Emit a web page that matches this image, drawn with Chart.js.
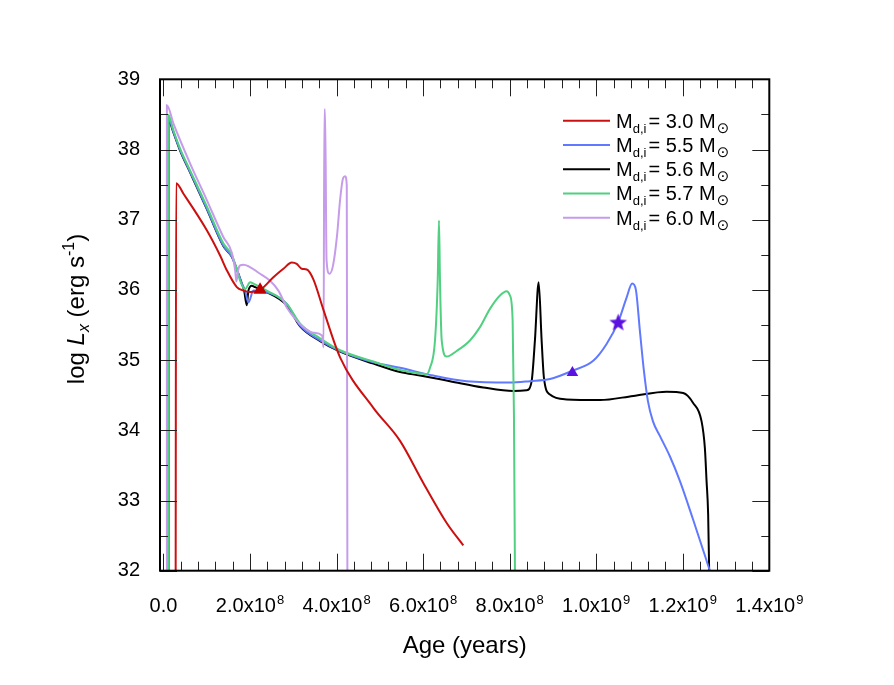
<!DOCTYPE html>
<html>
<head>
<meta charset="utf-8">
<script src="https://cdn.jsdelivr.net/npm/chart.js@4.4.0/dist/chart.umd.min.js"></script>
<style>
body { margin: 0; background: #fff; }
#wrap { width: 894px; height: 685px; position: relative; }
</style>
</head>
<body>
<div id="wrap"><canvas id="myChart"></canvas></div>
<script>
// M_d,i = 3.0
const ageM30 = [2.82e7, 2.93e7, 4.62e7, 1.002e8, 1.309e8, 1.464e8, 1.695e8, 1.848e8, 2.002e8, 2.233e8, 2.54e8, 2.771e8, 2.965e8, 3.081e8, 3.196e8, 3.312e8, 3.464e8, 3.695e8, 4.081e8, 4.85e8, 5.467e8, 6.005e8, 6.545e8, 6.929e8];
const lxM30 = [32, 37.52, 37.37, 36.85, 36.49, 36.28, 36.04, 35.99, 35.97, 36.0, 36.18, 36.3, 36.39, 36.37, 36.3, 36.29, 36.15, 35.72, 35.04, 34.32, 33.85, 33.25, 32.68, 32.36];

// M_d,i = 5.5
const ageM55 = [1.15e7, 1.15e7, 2.31e7, 3.86e7, 6.17e7, 1.002e8, 1.386e8, 1.58e8, 1.732e8, 1.811e8, 1.887e8, 1.963e8, 2.079e8, 2.31e8, 2.85e8, 3.157e8, 3.619e8, 4.081e8, 4.85e8, 5.467e8, 6.236e8, 7.007e8, 8.007e8, 8.469e8, 8.931e8, 9.455e8, 9.931e8, 1.024e9, 1.0508e9, 1.0702e9, 1.0832e9, 1.0917e9, 1.1009e9, 1.1102e9, 1.1194e9, 1.131e9, 1.1471e9, 1.1702e9, 1.1933e9, 1.2233e9, 1.2626e9];
const lxM55 = [32, 38.45, 38.25, 37.99, 37.68, 37.16, 36.63, 36.47, 36.23, 36.09, 35.99, 35.82, 35.99, 35.98, 35.8, 35.49, 35.28, 35.13, 34.97, 34.89, 34.78, 34.7, 34.68, 34.7, 34.73, 34.85, 34.99, 35.23, 35.54, 35.89, 36.09, 36.0, 35.42, 34.85, 34.42, 34.13, 33.92, 33.63, 33.28, 32.74, 32.0];

// M_d,i = 5.6
const ageM56 = [1.15e7, 1.15e7, 2.31e7, 3.86e7, 6.17e7, 1.002e8, 1.386e8, 1.58e8, 1.732e8, 1.811e8, 1.864e8, 1.926e8, 1.963e8, 2.042e8, 2.118e8, 2.31e8, 2.85e8, 3.157e8, 3.619e8, 4.081e8, 4.85e8, 5.467e8, 5.928e8, 6.621e8, 7.39e8, 8.083e8, 8.393e8, 8.508e8, 8.584e8, 8.67e8, 8.739e8, 8.792e8, 8.931e8, 9.317e8, 1.0086e9, 1.0855e9, 1.1626e9, 1.201e9, 1.224e9, 1.2434e9, 1.2511e9, 1.255e9, 1.2587e9, 1.261e9];
const lxM56 = [32, 38.42, 38.24, 37.98, 37.67, 37.15, 36.62, 36.47, 36.23, 36.09, 35.99, 35.78, 35.99, 36.06, 36.04, 35.99, 35.78, 35.48, 35.27, 35.12, 34.95, 34.83, 34.78, 34.7, 34.61, 34.56, 34.57, 34.7, 35.28, 36.11, 35.28, 34.75, 34.51, 34.44, 34.43, 34.49, 34.55, 34.53, 34.39, 34.13, 33.75, 33.28, 32.8, 32.0];

// M_d,i = 5.7
const ageM57 = [1.15e7, 1.15e7, 2.31e7, 3.86e7, 6.17e7, 1.002e8, 1.386e8, 1.58e8, 1.732e8, 1.771e8, 1.887e8, 2.002e8, 2.079e8, 2.388e8, 2.85e8, 3.157e8, 3.619e8, 4.081e8, 4.85e8, 5.467e8, 5.928e8, 6.083e8, 6.159e8, 6.275e8, 6.337e8, 6.367e8, 6.39e8, 6.43e8, 6.545e8, 6.776e8, 7.083e8, 7.314e8, 7.545e8, 7.776e8, 7.931e8, 8.007e8, 8.069e8, 8.099e8, 8.122e8];
const lxM57 = [32, 38.49, 38.27, 38.01, 37.7, 37.19, 36.66, 36.5, 36.22, 36.13, 36.01, 36.11, 36.09, 35.99, 35.8, 35.52, 35.31, 35.14, 34.98, 34.86, 34.81, 34.8, 34.89, 35.28, 36.13, 36.99, 36.13, 35.28, 35.05, 35.13, 35.28, 35.47, 35.73, 35.92, 35.98, 35.92, 35.56, 34.23, 32];

// M_d,i = 6.0
const ageM60 = [7.9e6, 7.9e6, 2.31e7, 6.17e7, 1.002e8, 1.386e8, 1.58e8, 1.656e8, 1.686e8, 1.725e8, 1.771e8, 1.848e8, 2.233e8, 2.464e8, 2.656e8, 2.85e8, 3.233e8, 3.464e8, 3.665e8, 3.70e8, 3.718e8, 3.735e8, 3.769e8, 3.834e8, 3.919e8, 4.012e8, 4.081e8, 4.15e8, 4.196e8, 4.236e8, 4.25e8];
const lxM60 = [32, 38.63, 38.37, 37.8, 37.28, 36.75, 36.53, 36.28, 36.12, 36.28, 36.35, 36.36, 36.23, 36.13, 35.99, 35.75, 35.47, 35.39, 35.35, 35.18, 38.57, 38.57, 36.42, 36.23, 36.35, 36.78, 37.28, 37.59, 37.62, 37.49, 32];

// markers
const triRedAge = [2.233e8];
const triRedLx = [36.0];
const triBlueAge = [9.45e8];
const triBlueLx = [34.82];
const starAge = [1.0508e9];
const starLx = [35.53];

// tick labels
const xTickValues = [0, 2e8, 4e8, 6e8, 8e8, 1e9, 1.2e9, 1.4e9];
const xTickBase = ['0.0', '2.0x10', '4.0x10', '6.0x10', '8.0x10', '1.0x10', '1.2x10', '1.4x10'];
const xTickExp = ['', '8', '8', '8', '8', '9', '9', '9'];

const legendMass = ['3.0', '5.5', '5.6', '5.7', '6.0'];
const seriesColors = ['#cc1010', '#6079ff', '#000000', '#50d080', '#c69cea'];

const FONT = '"Liberation Sans", Arial, Helvetica, sans-serif';

function pts(ages, lx) {
    return ages.map((a, i) => ({ x: a, y: lx[i] }));
}

function makeStar(r, color) {
    const c = document.createElement('canvas');
    const s = Math.ceil(r * 2 + 2);
    c.width = s;
    c.height = s;
    const g = c.getContext('2d');
    g.fillStyle = color;
    g.beginPath();
    for (let k = 0; k < 10; k++) {
        const rr = k % 2 === 0 ? r : r * 0.42;
        const ang = -Math.PI / 2 + k * Math.PI / 5;
        g.lineTo(s / 2 + rr * Math.cos(ang), s / 2 + rr * Math.sin(ang));
    }
    g.closePath();
    g.fill();
    return c;
}

function lineSet(ages, lx, color, order) {
    return {
        data: pts(ages, lx),
        showLine: true,
        borderColor: color,
        borderWidth: 2,
        pointRadius: 0,
        cubicInterpolationMode: 'monotone',
        order: order
    };
}

function markerSet(ages, lx, color, style, radius) {
    return {
        data: pts(ages, lx),
        showLine: false,
        pointStyle: style,
        pointRadius: radius,
        backgroundColor: color,
        borderColor: color,
        borderWidth: 0,
        order: 0
    };
}

const decorPlugin = {
    id: 'decor',
    afterDraw(chart) {
        const ctx = chart.ctx;
        const a = chart.chartArea;
        const xs = chart.scales.x;
        const ys = chart.scales.y;
        ctx.save();

        // inward ticks on all four sides
        ctx.strokeStyle = '#222';
        ctx.lineWidth = 1;
        ctx.beginPath();
        for (let i = 0; i <= 35; i++) {
            const px = Math.round(xs.getPixelForValue(i * 4e7)) + 0.5;
            const len = i % 5 === 0 ? 17 : 9;
            ctx.moveTo(px, a.bottom);
            ctx.lineTo(px, a.bottom - len);
            ctx.moveTo(px, a.top);
            ctx.lineTo(px, a.top + len);
        }
        for (let v = 32; v <= 39; v += 0.5) {
            const py = Math.round(ys.getPixelForValue(v)) + 0.5;
            const len = v % 1 === 0 ? 17 : 8;
            ctx.moveTo(a.left, py);
            ctx.lineTo(a.left + len, py);
            ctx.moveTo(a.right, py);
            ctx.lineTo(a.right - len, py);
        }
        ctx.stroke();

        // frame
        ctx.strokeStyle = '#000';
        ctx.lineWidth = 2;
        ctx.strokeRect(a.left, a.top, a.right - a.left, a.bottom - a.top);

        // x tick labels with exponents
        ctx.fillStyle = '#000';
        ctx.textBaseline = 'alphabetic';
        ctx.textAlign = 'left';
        for (let i = 0; i < xTickValues.length; i++) {
            const px = xs.getPixelForValue(xTickValues[i]);
            ctx.font = '20px ' + FONT;
            const wb = ctx.measureText(xTickBase[i]).width;
            ctx.font = '13px ' + FONT;
            const we = xTickExp[i] ? ctx.measureText(xTickExp[i]).width + 1 : 0;
            const x0 = px - (wb + we) / 2;
            ctx.font = '20px ' + FONT;
            ctx.fillText(xTickBase[i], x0, 612);
            if (xTickExp[i]) {
                ctx.font = '13px ' + FONT;
                ctx.fillText(xTickExp[i], x0 + wb + 1, 604);
            }
        }

        // x title
        ctx.font = '24px ' + FONT;
        ctx.textAlign = 'center';
        ctx.fillText('Age (years)', (a.left + a.right) / 2, 653);

        // y title: log L_x (erg s^-1)
        const parts = [
            { t: 'log ', f: '24px ' + FONT, dy: 0 },
            { t: 'L', f: 'italic 24px ' + FONT, dy: 0 },
            { t: 'x', f: 'italic 16px ' + FONT, dy: 5 },
            { t: ' (erg s', f: '24px ' + FONT, dy: 0 },
            { t: '-1', f: '16px ' + FONT, dy: -10 },
            { t: ')', f: '24px ' + FONT, dy: 0 }
        ];
        ctx.textAlign = 'left';
        let total = 0;
        parts.forEach(p => { ctx.font = p.f; p.w = ctx.measureText(p.t).width; total += p.w; });
        ctx.translate(83.5, 309);
        ctx.rotate(-Math.PI / 2);
        let cx = -total / 2;
        parts.forEach(p => {
            ctx.font = p.f;
            ctx.fillText(p.t, cx, p.dy);
            cx += p.w;
        });
        ctx.setTransform(1, 0, 0, 1, 0, 0);

        // legend
        for (let i = 0; i < legendMass.length; i++) {
            const yc = 120.7 + i * 24.25;
            ctx.strokeStyle = seriesColors[i];
            ctx.lineWidth = 2;
            ctx.beginPath();
            ctx.moveTo(563, yc);
            ctx.lineTo(610, yc);
            ctx.stroke();
            let tx = 616;
            const base = yc + 7;
            ctx.font = '20px ' + FONT;
            ctx.fillText('M', tx, base);
            tx += ctx.measureText('M').width;
            ctx.font = '13px ' + FONT;
            ctx.fillText('d,i', tx, base + 5);
            tx += ctx.measureText('d,i').width + 2;
            ctx.font = '20px ' + FONT;
            const mid = '= ' + legendMass[i] + ' M';
            ctx.fillText(mid, tx, base);
            tx += ctx.measureText(mid).width + 1;
            ctx.font = '15px "DejaVu Sans", sans-serif';
            ctx.fillText('\u2299', tx, base + 5);
        }
        ctx.restore();
    }
};

const ctx = document.getElementById('myChart');

new Chart(ctx, {
    type: 'scatter',
    data: {
        datasets: [
            markerSet(triRedAge, triRedLx, '#c00000', 'triangle', 7.7),
            markerSet(triBlueAge, triBlueLx, '#5b12e0', 'triangle', 6.7),
            markerSet(starAge, starLx, '#5b12e0', makeStar(9.3, '#5b12e0'), 9),
            lineSet(ageM30, lxM30, seriesColors[0], 1),
            lineSet(ageM60, lxM60, seriesColors[4], 2),
            lineSet(ageM57, lxM57, seriesColors[3], 3),
            lineSet(ageM55, lxM55, seriesColors[1], 4),
            lineSet(ageM56, lxM56, seriesColors[2], 5)
        ]
    },
    options: {
        responsive: true,
        maintainAspectRatio: false,
        animation: false,
        events: [],
        devicePixelRatio: 1,
        layout: { padding: { top: 79.3, right: 124.7, left: 0, bottom: 0 } },
        plugins: {
            legend: { display: false },
            tooltip: { enabled: false }
        },
        scales: {
            x: {
                type: 'linear',
                min: -8e6,
                max: 1.4e9,
                grid: { display: false, drawTicks: false },
                border: { display: false },
                ticks: { display: false },
                afterFit: function(scale) { scale.height = 114.3; }
            },
            y: {
                min: 32,
                max: 39,
                grid: { display: false, drawTicks: false },
                border: { display: false },
                ticks: {
                    stepSize: 1,
                    padding: 20,
                    color: '#000',
                    font: { family: FONT, size: 20 }
                },
                afterFit: function(scale) { scale.width = 160; }
            }
        }
    },
    plugins: [decorPlugin]
});
</script>
</body>
</html>
